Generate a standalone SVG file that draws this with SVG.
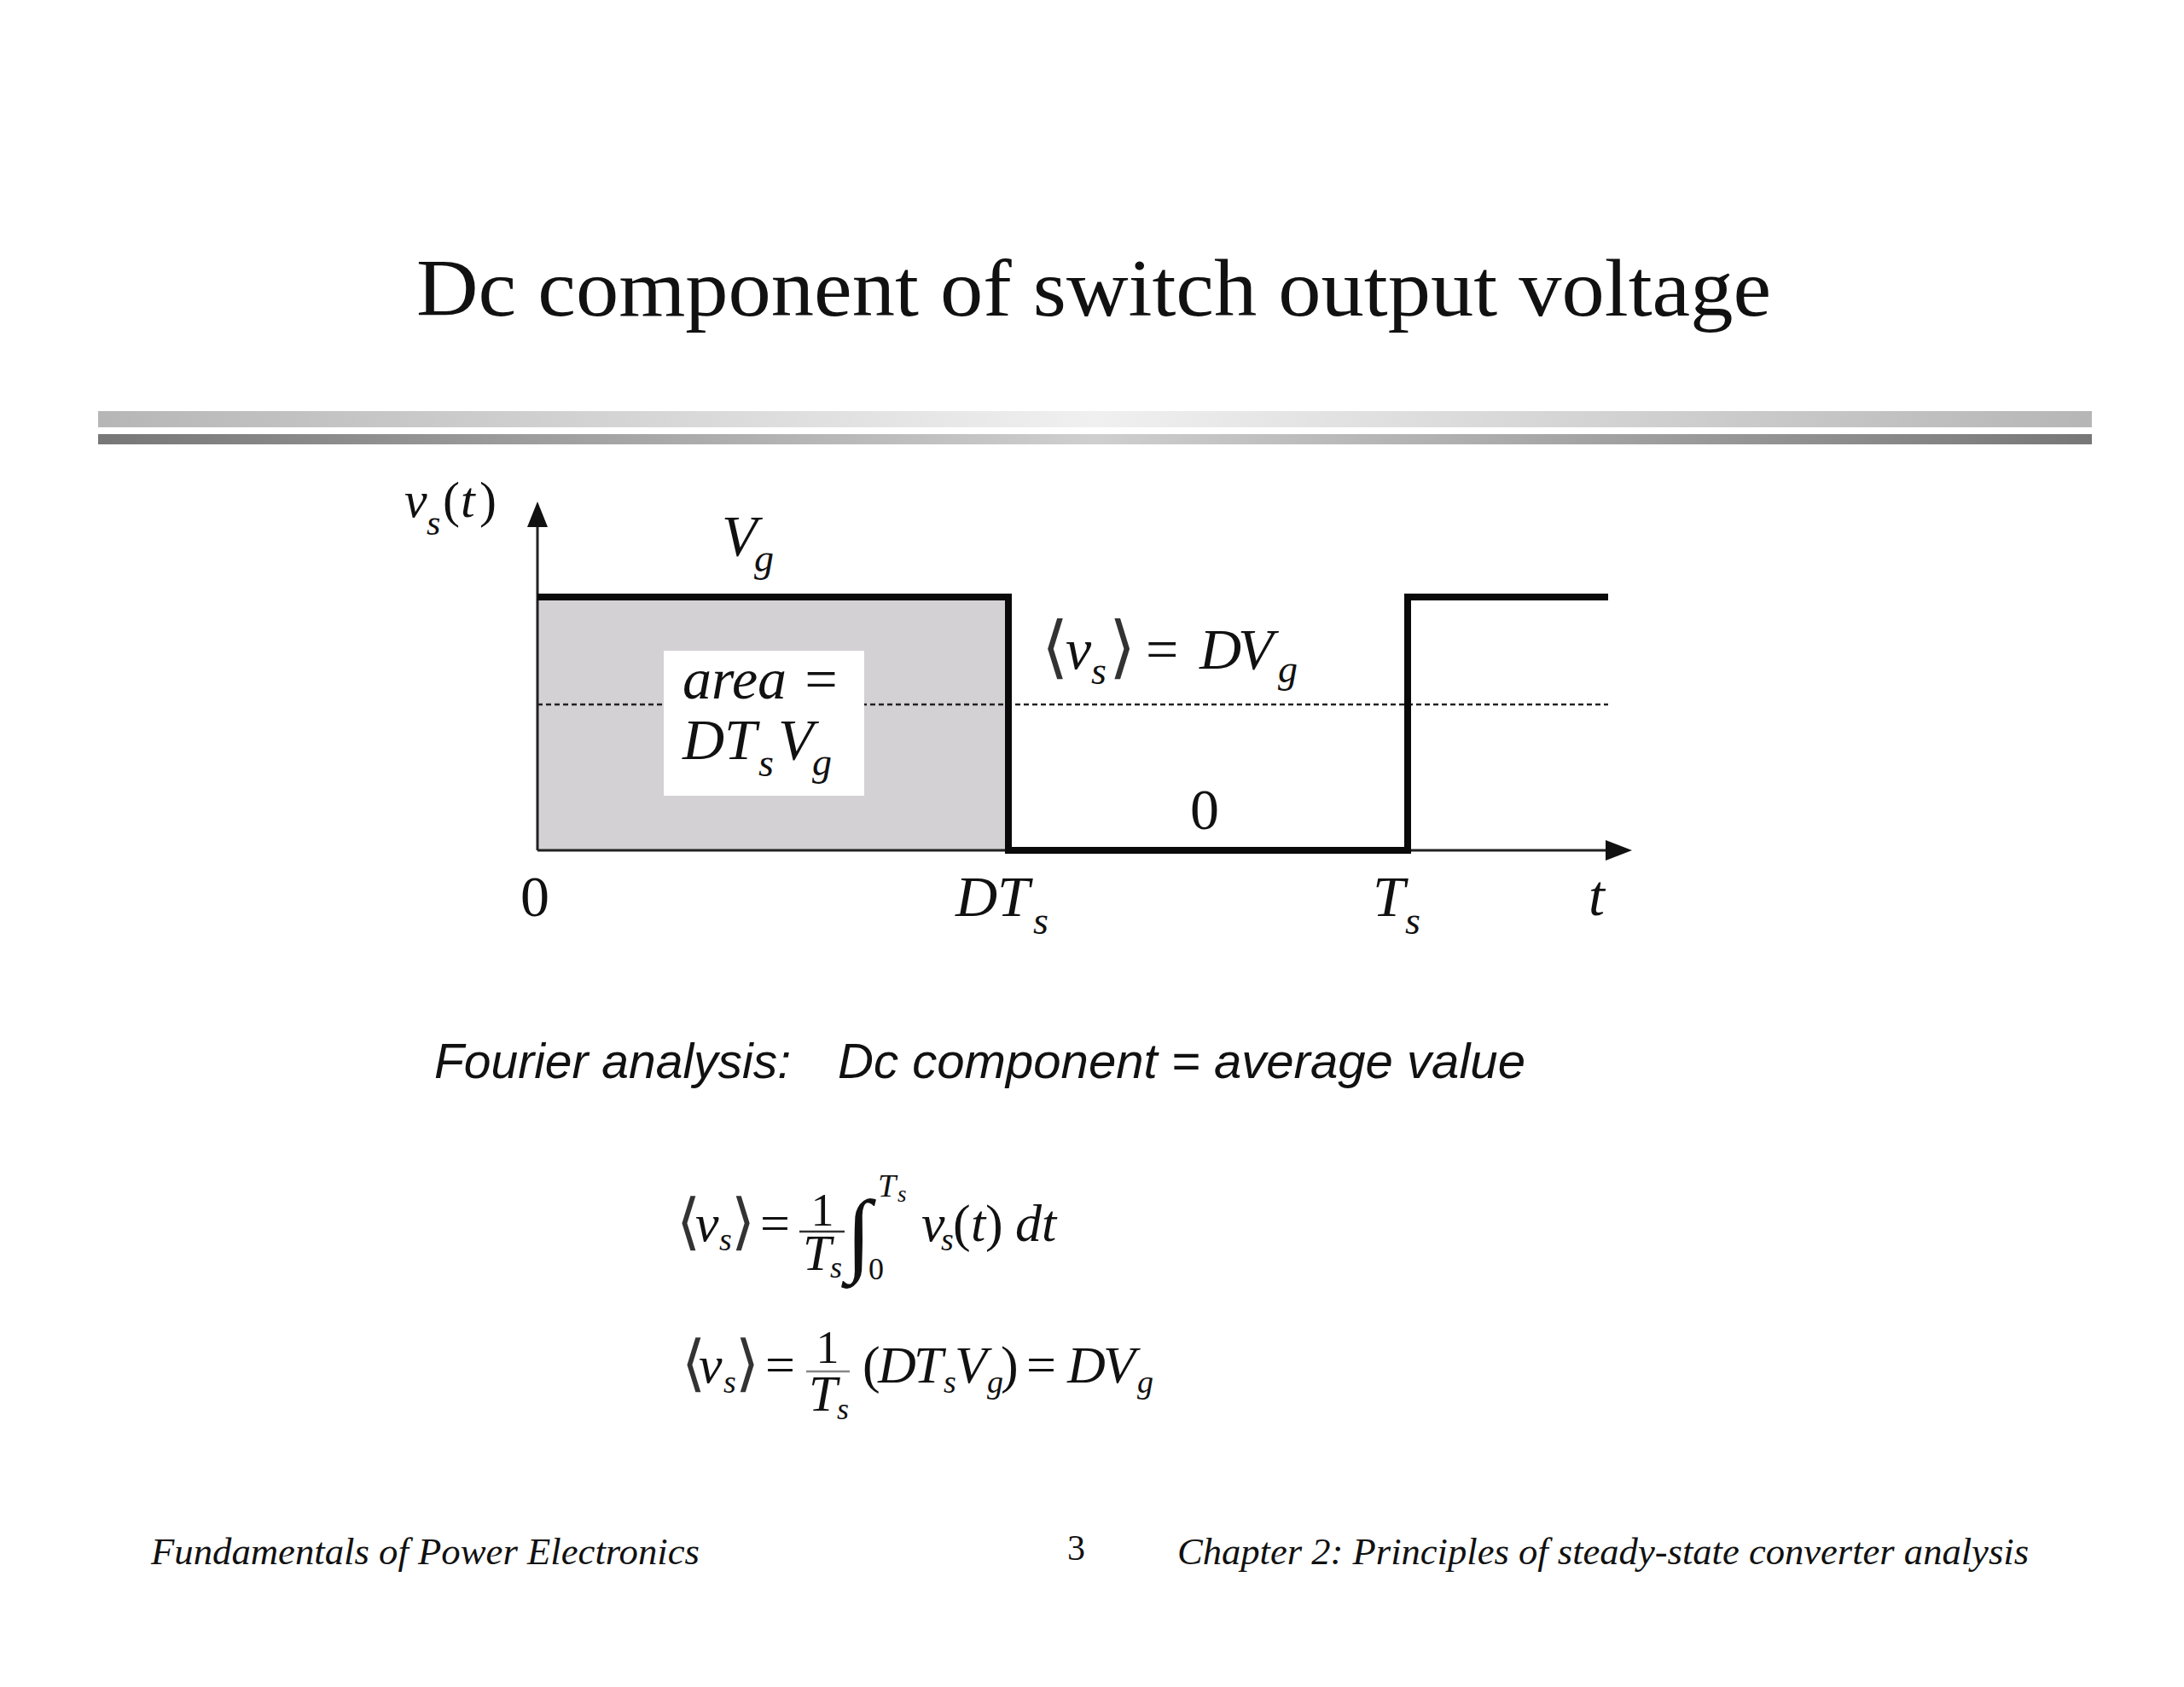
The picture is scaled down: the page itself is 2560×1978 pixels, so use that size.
<svg xmlns="http://www.w3.org/2000/svg" width="2560" height="1978" viewBox="0 0 2560 1978">
<defs>
<linearGradient id="barTop" x1="0" y1="0" x2="1" y2="0">
<stop offset="0" stop-color="#b6b6b6"/><stop offset="0.5" stop-color="#f0f0f0"/><stop offset="1" stop-color="#b6b6b6"/>
</linearGradient>
<linearGradient id="barBot" x1="0" y1="0" x2="1" y2="0">
<stop offset="0" stop-color="#777777"/><stop offset="0.5" stop-color="#cfcfcf"/><stop offset="1" stop-color="#777777"/>
</linearGradient>
<style>
text{font-family:"Liberation Serif","DejaVu Serif",serif;fill:#111}
.it{font-style:italic}
.m{font-size:68px}
.sub{font-size:46px;font-style:italic}
.f{font-size:62px}
.fs{font-size:38px;font-style:italic}
.ang{font-family:"DejaVu Sans","DejaVu Serif",sans-serif;font-weight:200;fill:#333}
.sans{font-family:"Liberation Sans",Arial,sans-serif;font-style:italic;font-size:58px}
.foot{font-size:44px;font-style:italic}
</style>
</defs>
<rect width="2560" height="1978" fill="#ffffff"/>
<g id="title">
<text x="488" y="370" font-size="96" textLength="1588" lengthAdjust="spacingAndGlyphs">Dc component of switch output voltage</text>
</g>
<g id="rules">
<rect x="115" y="482" width="2337" height="19" fill="url(#barTop)"/>
<rect x="115" y="509" width="2337" height="12" fill="url(#barBot)"/>
</g>
<g id="plot">
<rect x="630" y="700" width="552" height="297" fill="#d3d1d3"/>
<line x1="630" y1="826" x2="1885" y2="826" stroke="#222" stroke-width="2.5" stroke-dasharray="6 4"/>
<rect id="areaBox" x="778" y="763" width="235" height="170" fill="#ffffff"/>
<line x1="630" y1="997" x2="1885" y2="997" stroke="#222" stroke-width="3"/>
<line x1="630" y1="997" x2="630" y2="612" stroke="#222" stroke-width="3"/>
<polygon points="630,588 618,618 642,618" fill="#111"/>
<polygon points="1913,997 1882,985 1882,1009" fill="#111"/>
<path d="M630,700 H1182 V997 H1650 V700 H1885" fill="none" stroke="#0a0a0a" stroke-width="8" stroke-linejoin="miter"/>
</g>
<g id="labels">
<text y="606" font-size="60"><tspan x="474" class="it">v</tspan><tspan x="500" dy="21" font-size="42" class="it">s</tspan><tspan x="519" dy="-21">(</tspan><tspan x="540" class="it">t</tspan><tspan x="562">)</tspan></text>
<text y="651" class="m"><tspan x="846" class="it">V</tspan><tspan x="884" dy="19" class="sub">g</tspan></text>
<text x="800" y="819" class="m it">area =</text>
<text y="890" class="m"><tspan x="800" class="it">D</tspan><tspan x="849" class="it">T</tspan><tspan x="889" dy="20" class="sub">s</tspan><tspan x="912" dy="-20" class="it">V</tspan><tspan x="952" dy="19" class="sub">g</tspan></text>
<text y="786" class="m"><tspan x="1221" class="ang" font-size="80">⟨</tspan><tspan x="1249" class="it" dy="-2">v</tspan><tspan x="1279" dy="18" class="sub">s</tspan><tspan x="1300" dy="-16" class="ang" font-size="80">⟩</tspan><tspan x="1343" dy="-2">=</tspan><tspan x="1406" class="it">D</tspan><tspan x="1451" class="it">V</tspan><tspan x="1498" dy="16" class="sub">g</tspan></text>
<text x="1395" y="972" class="m">0</text>
<text x="610" y="1074" class="m">0</text>
<text y="1074" class="m"><tspan x="1120" class="it">D</tspan><tspan x="1169" class="it">T</tspan><tspan x="1211" dy="21" class="sub">s</tspan></text>
<text y="1074" class="m"><tspan x="1609" class="it">T</tspan><tspan x="1647" dy="21" class="sub">s</tspan></text>
<text x="1862" y="1073" class="m it">t</text>
</g>
<g id="fourier">
<text x="509" y="1264" class="sans" textLength="418" lengthAdjust="spacingAndGlyphs">Fourier analysis:</text>
<text x="982" y="1264" class="sans" textLength="806" lengthAdjust="spacingAndGlyphs">Dc component = average value</text>
</g>
<g id="eq1">
<text y="1457" class="f"><tspan x="793" class="ang" font-size="72">⟨</tspan><tspan x="815" class="it" dy="-2">v</tspan><tspan x="843" dy="11" class="fs">s</tspan><tspan x="857" dy="-9" class="ang" font-size="72">⟩</tspan><tspan x="891" dy="-2">=</tspan></text>
<text x="964" y="1437" font-size="54" text-anchor="middle">1</text>
<line x1="937" y1="1444" x2="990" y2="1444" stroke="#333" stroke-width="2.5"/>
<text y="1489" font-size="60"><tspan x="941" class="it">T</tspan><tspan x="973" dy="9" font-size="36" class="it">s</tspan></text>
<text x="992" y="1482" font-size="108">∫</text>
<text y="1403" font-size="38"><tspan x="1029" class="it">T</tspan><tspan x="1052" dy="6" font-size="27" class="it">s</tspan></text>
<text x="1018" y="1500" font-size="36">0</text>
<text y="1455" class="f"><tspan x="1080" class="it">v</tspan><tspan x="1103" dy="11" class="fs">s</tspan><tspan x="1117" dy="-11">(</tspan><tspan x="1138" class="it">t</tspan><tspan x="1155">)</tspan><tspan x="1190" class="it">dt</tspan></text>
</g>
<g id="eq2">
<text y="1623" class="f"><tspan x="799" class="ang" font-size="72">⟨</tspan><tspan x="819" class="it" dy="-2">v</tspan><tspan x="848" dy="12" class="fs">s</tspan><tspan x="862" dy="-10" class="ang" font-size="72">⟩</tspan><tspan x="897" dy="-2">=</tspan></text>
<text x="970" y="1598" font-size="54" text-anchor="middle">1</text>
<line x1="945" y1="1608" x2="996" y2="1608" stroke="#888" stroke-width="2.5"/>
<text y="1654" font-size="60"><tspan x="948" class="it">T</tspan><tspan x="981" dy="10" font-size="36" class="it">s</tspan></text>
<text y="1621" class="f"><tspan x="1011">(</tspan><tspan x="1029" class="it">D</tspan><tspan x="1071" class="it">T</tspan><tspan x="1106" dy="12" class="fs">s</tspan><tspan x="1119" dy="-12" class="it">V</tspan><tspan x="1157" dy="12" class="fs">g</tspan><tspan x="1173" dy="-12">)</tspan><tspan x="1203">=</tspan><tspan x="1251" class="it">D</tspan><tspan x="1293" class="it">V</tspan><tspan x="1333" dy="12" class="fs">g</tspan></text>
</g>
<g id="footer">
<text x="177" y="1834" class="foot" textLength="643" lengthAdjust="spacingAndGlyphs">Fundamentals of Power Electronics</text>
<text x="1251" y="1829" font-size="42">3</text>
<text x="1380" y="1834" class="foot" textLength="998" lengthAdjust="spacingAndGlyphs">Chapter 2: Principles of steady-state converter analysis</text>
</g>
</svg>
